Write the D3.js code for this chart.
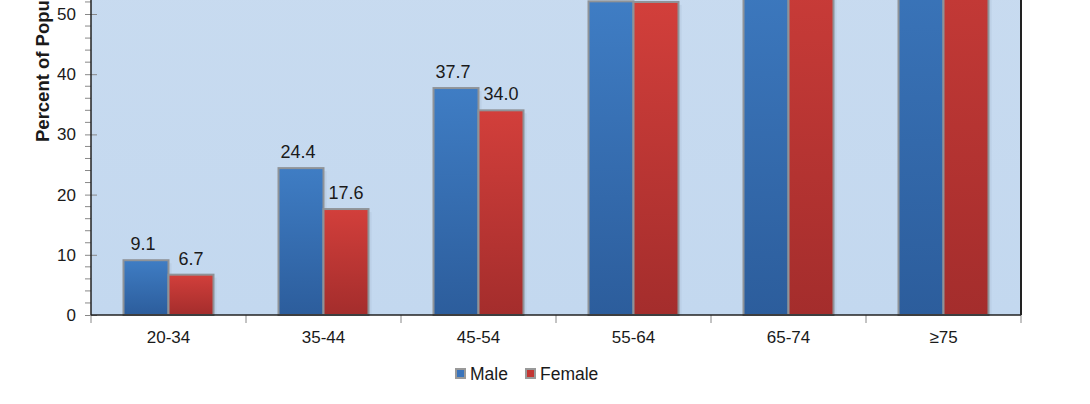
<!DOCTYPE html>
<html><head><meta charset="utf-8">
<script src="https://cdn.jsdelivr.net/npm/d3@7"></script>
<style>body{margin:0;background:#fff}svg{display:block;font-family:"Liberation Sans",Arial,sans-serif}</style>
</head><body><svg id="c" width="1090" height="404"></svg>
<script>
const categories = ["20-34","35-44","45-54","55-64","65-74","\u226575"];
const male = [9.1, 24.4, 37.7, 52.1, 64.0, 76.4];
const female = [6.7, 17.6, 34.0, 52.0, 69.3, 79.9];
const seriesNames = ["Male","Female"];
const yTicks = [0,10,20,30,40,50];

const svg = d3.select("#c");
const L = 91, R = 1021, B = 315;
const x = d3.scaleBand().domain(categories).range([L, R]);
const y = d3.scaleLinear().domain([0, 80]).range([B, B - 80 * 6.02]);
const xs = d3.scaleBand().domain(seriesNames).range([0, 90]);
const FONT = "Liberation Sans, Arial, sans-serif";

const defs = svg.append("defs");
function grad(id, c1, c2) {
  const g = defs.append("linearGradient").attr("id", id).attr("x1", 0).attr("y1", 0).attr("x2", 0).attr("y2", 1);
  g.append("stop").attr("offset", "0%").attr("stop-color", c1);
  g.append("stop").attr("offset", "100%").attr("stop-color", c2);
}
grad("gMale", "#3f7dc4", "#2c5d9c");
grad("gFemale", "#d23f3b", "#a42d2c");
grad("gBg", "#cadcf0", "#c3d8ef");

svg.append("rect").attr("x", L).attr("y", y(80)).attr("width", R - L).attr("height", B - y(80)).attr("fill", "url(#gBg)");

const data = categories.map((c, i) => ({c, vals: [{s: "Male", v: male[i]}, {s: "Female", v: female[i]}]}));
const groupOff = (x.bandwidth() - 90) / 2;

const g = svg.selectAll("g.cat").data(data).join("g").attr("class", "cat")
  .attr("transform", d => `translate(${x(d.c) + groupOff},0)`);
g.selectAll("rect.sh").data(d => d.vals).join("rect").attr("class", "sh")
  .attr("x", d => xs(d.s) + 3).attr("y", d => y(d.v) + 3)
  .attr("width", xs.bandwidth()).attr("height", d => B - y(d.v) - 3)
  .attr("fill", "#b5c9df").attr("opacity", 0.6);
g.selectAll("rect.bar").data(d => d.vals).join("rect").attr("class", "bar")
  .attr("x", d => xs(d.s)).attr("y", d => y(d.v))
  .attr("width", xs.bandwidth()).attr("height", d => B - y(d.v))
  .attr("fill", d => d.s === "Male" ? "url(#gMale)" : "url(#gFemale)")
  .attr("stroke", "#8f9398").attr("stroke-width", 2);
// value labels (those of the tallest bars sit above the cropped top edge, as in the reference)
g.selectAll("text.lab").data(d => d.vals.filter(v => y(v.v) - 10 > 20)).join("text").attr("class", "lab")
  .attr("x", d => xs(d.s) + xs.bandwidth() / 2 + (d.s === "Male" ? -3 : 0)).attr("y", d => y(d.v) - 10)
  .attr("text-anchor", "middle").attr("font-size", 18).attr("fill", "#1a1a1a")
  .text(d => d.v.toFixed(1));

const yAxis = svg.append("g").attr("transform", `translate(${L},0)`)
  .call(d3.axisLeft(y).tickValues(yTicks).tickSize(6).tickPadding(9));
yAxis.select(".domain").remove();
yAxis.selectAll(".tick line").attr("stroke", "#888").attr("x2", 6).attr("x1", -6);
yAxis.selectAll(".tick text").attr("font-size", 17).attr("fill", "#1a1a1a").attr("font-family", FONT);
const minor = d3.range(0, 53, 2).filter(v => v % 10 !== 0);
svg.append("g").selectAll("line").data(minor).join("line")
  .attr("x1", L - 6).attr("x2", L).attr("y1", d => y(d)).attr("y2", d => y(d)).attr("stroke", "#888");
svg.append("line").attr("x1", L).attr("x2", L).attr("y1", y(80)).attr("y2", B).attr("stroke", "#222").attr("stroke-width", 1.5);
svg.append("line").attr("x1", R).attr("x2", R).attr("y1", y(80)).attr("y2", B).attr("stroke", "#222").attr("stroke-width", 2);

const xAxis = svg.append("g").attr("transform", `translate(0,${B})`)
  .call(d3.axisBottom(x).tickSize(0).tickPadding(16));
xAxis.select(".domain").remove();
xAxis.selectAll(".tick text").attr("font-size", 17).attr("fill", "#1a1a1a").attr("font-family", FONT);
const bounds = categories.map(c => x(c)).concat([R]);
svg.append("g").selectAll("line").data(bounds).join("line")
  .attr("x1", d => d).attr("x2", d => d).attr("y1", B).attr("y2", B + 8).attr("stroke", "#888");
svg.append("line").attr("x1", L).attr("x2", R).attr("y1", B).attr("y2", B).attr("stroke", "#222").attr("stroke-width", 1.5);

svg.append("text").attr("transform", "translate(49,142) rotate(-90)")
  .attr("font-size", 18.5).attr("font-weight", "bold").attr("fill", "#1a1a1a")
  .text("Percent of Population");

const leg = svg.append("g").attr("transform", "translate(455,368)");
const items = [{s: "Male", x: 0, f: "#3a74bb"}, {s: "Female", x: 70, f: "#c23633"}];
items.forEach(it => {
  leg.append("rect").attr("x", it.x + 1).attr("y", 1).attr("width", 9).attr("height", 9)
    .attr("fill", it.f).attr("stroke", "#999").attr("stroke-width", 2);
  leg.append("text").attr("x", it.x + 15).attr("y", 12).attr("font-size", 17.5).attr("fill", "#1a1a1a").text(it.s);
});
</script></body></html>
